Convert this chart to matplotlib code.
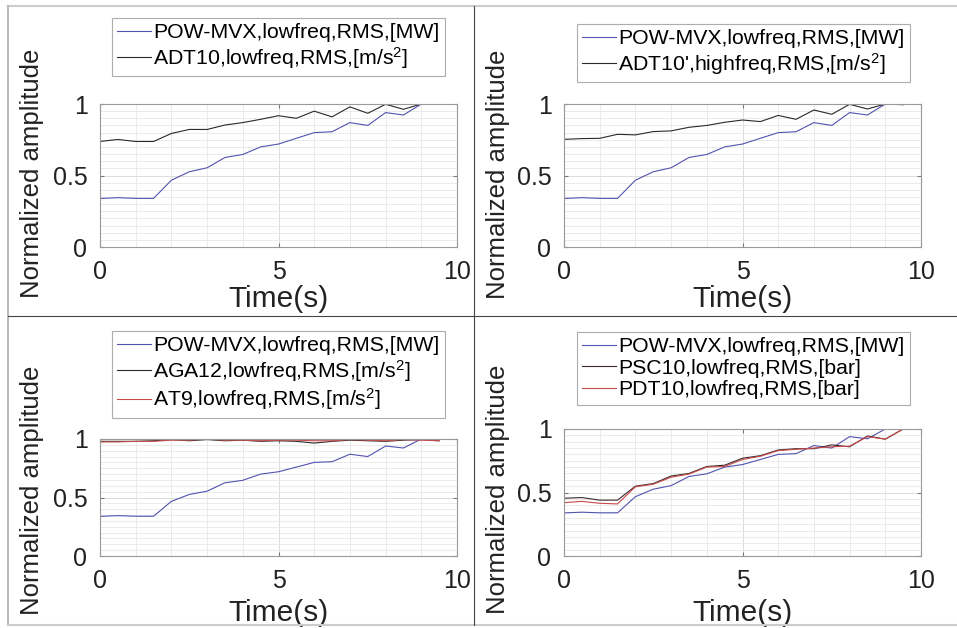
import numpy as np
import matplotlib
matplotlib.use('Agg')
import matplotlib.pyplot as plt
from matplotlib.lines import Line2D
from matplotlib.ticker import MultipleLocator

plt.rcParams['font.family'] = ['Liberation Sans', 'DejaVu Sans']
plt.rcParams['mathtext.fontset'] = 'custom'
plt.rcParams['mathtext.rm'] = 'Liberation Sans'
plt.rcParams['mathtext.it'] = 'Liberation Sans:italic'

# time axis (s)
time = [0, 0.5, 1, 1.5, 2, 2.5, 3, 3.5, 4, 4.5, 5, 5.5, 6, 6.5, 7, 7.5, 8, 8.5, 9, 9.5]

# normalized RMS amplitudes
pow_mvx = [0.339, 0.345, 0.340, 0.340, 0.467, 0.526, 0.554, 0.626, 0.647, 0.700,
           0.720, 0.760, 0.800, 0.806, 0.870, 0.850, 0.940, 0.923, 1.000, 0.998]
adt10_low = [0.738, 0.752, 0.738, 0.738, 0.794, 0.822, 0.822, 0.853, 0.870, 0.893,
             0.918, 0.900, 0.950, 0.910, 0.980, 0.935, 0.998, 0.963, 1.000, 0.998]
adt10_high = [0.753, 0.758, 0.760, 0.788, 0.784, 0.807, 0.812, 0.837, 0.850, 0.872,
              0.888, 0.877, 0.920, 0.893, 0.958, 0.928, 0.998, 0.965, 1.000, 0.995]
aga12 = [0.980, 0.980, 0.980, 0.985, 0.995, 0.985, 0.995, 0.985, 0.990, 0.980,
         0.985, 0.980, 0.965, 0.980, 0.990, 0.985, 0.980, 0.990, 0.995, 0.985]
at9 = [0.975, 0.975, 0.980, 0.980, 0.990, 0.990, 1.000, 0.990, 0.990, 0.985,
       0.990, 0.990, 0.985, 0.985, 0.995, 0.990, 0.985, 0.995, 0.990, 0.985]
psc10 = [0.455, 0.460, 0.440, 0.440, 0.550, 0.570, 0.630, 0.650, 0.705, 0.715,
         0.770, 0.790, 0.835, 0.845, 0.845, 0.875, 0.860, 0.945, 0.920, 1.000]
pdt10 = [0.420, 0.430, 0.415, 0.410, 0.545, 0.565, 0.620, 0.645, 0.700, 0.705,
         0.760, 0.785, 0.830, 0.840, 0.850, 0.860, 0.865, 0.940, 0.920, 1.000]

BLUE = '#5252b0'
BLACK = '#2a2a2a'
RED = '#c84a4a'

lbl_pow = 'POW-MVX,lowfreq,RMS,[MW]'

panels = [
    # axes box (px), legend top-left (px), ylabel centre (px), xlabel baseline (px), series
    ([100, 104, 457, 247], (112, 18), (32, 173), 307,
     [(pow_mvx, BLUE, lbl_pow),
      (adt10_low, BLACK, r'ADT10,lowfreq,RMS,[m/s$^2$]')]),
    ([564, 104, 921, 247], (577, 24), (498, 174), 307,
     [(pow_mvx, BLUE, lbl_pow),
      (adt10_high, BLACK, r"ADT10',highfreq,RMS,[m/s$^2$]")]),
    ([100, 439, 457, 556], (112, 331), (32, 490), 621,
     [(pow_mvx, BLUE, lbl_pow),
      (aga12, BLACK, r'AGA12,lowfreq,RMS,[m/s$^2$]'),
      (at9, RED, r'AT9,lowfreq,RMS,[m/s$^2$]')]),
    ([564, 429, 921, 556], (577, 332), (498, 489), 621,
     [(pow_mvx, BLUE, lbl_pow),
      (psc10, '#3a2a2a', 'PSC10,lowfreq,RMS,[bar]'),
      (pdt10, RED, 'PDT10,lowfreq,RMS,[bar]')]),
]

W, H = 957, 628
fig = plt.figure(figsize=(W / 100, H / 100), dpi=100)

for (x0, y0, x1, y1), (lx, ly), (yx, yy), xb, series in panels:
    ax = fig.add_axes([x0 / W, 1 - y1 / H, (x1 - x0) / W, (y1 - y0) / H])
    for vals, col, lab in series:
        ax.plot(time, vals, color=col, lw=0.8, label=lab)
    ax.set_xlim(0, 10)
    ax.set_ylim(0, 1)
    ax.set_xticks([0, 5, 10])
    ax.set_yticks([0, 0.5, 1])
    ax.set_xticklabels(['0', '5', '10'])
    ax.set_yticklabels(['0', '0.5', '1'])
    ax.xaxis.set_minor_locator(MultipleLocator(1))
    ax.yaxis.set_minor_locator(MultipleLocator(0.05))
    ax.grid(True, which='major', color='#dcdcdc', lw=0.7)
    ax.grid(True, which='minor', color='#e8e8e8', lw=0.6)
    ax.set_axisbelow(True)
    ax.tick_params(which='both', direction='in', length=3, labelsize=18,
                   color='#777777', labelcolor='#222222', pad=9,
                   top=True, right=True)
    ax.tick_params(which='minor', length=0)
    for sp in ax.spines.values():
        sp.set_color('#999999')
        sp.set_linewidth(0.8)
    # axis titles placed in figure pixels, like the stitched original
    fig.text((x0 + x1) / 2 / W, 1 - xb / H, 'Time(s)', fontsize=21.5,
             ha='center', va='baseline', color='#222222')
    fig.text(yx / W, 1 - yy / H, 'Normalized amplitude', fontsize=18.5,
             rotation=90, ha='center', va='center', color='#222222')
    leg = ax.legend(loc='upper left', bbox_to_anchor=(lx / W, 1 - ly / H),
                    bbox_transform=fig.transFigure, fontsize=15.3,
                    frameon=True, fancybox=False, handlelength=1.6,
                    handletextpad=0.1, borderpad=0.25, labelspacing=0.12,
                    borderaxespad=0)
    leg.get_frame().set_edgecolor('#999999')
    leg.get_frame().set_linewidth(0.8)

# panel frame lines
frame = [
    ([8, W], [6, 6], '#cccccc', 1.5),
    ([8, 8], [6, 625], '#bbbbbb', 1.5),
    ([8, W], [625, 625], '#cccccc', 1.5),
    ([474, 474], [6, 625], '#444444', 0.8),
    ([8, W], [316, 316], '#444444', 0.8),
]
for xs, ys, col, lw in frame:
    fig.add_artist(Line2D([x / W for x in xs], [1 - y / H for y in ys],
                          color=col, lw=lw, zorder=10))

fig.savefig('out.png', dpi=100)
